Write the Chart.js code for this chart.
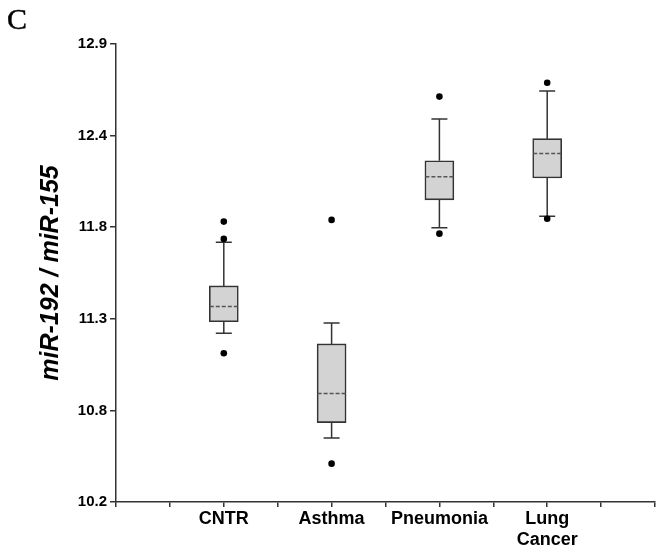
<!DOCTYPE html>
<html>
<head>
<meta charset="utf-8">
<script src="https://cdn.jsdelivr.net/npm/chart.js@4.4.1/dist/chart.umd.min.js"></script>
<style>
    body { margin: 0; background: #fff; }
    #wrap { position: relative; width: 657px; height: 554px; }
    #panel { position: absolute; left: 7px; top: 2px; font: 30px "Liberation Serif", "Times New Roman", serif; color: #000; -webkit-text-stroke: 0.4px #000; }
</style>
</head>
<body>
<div id="wrap">
    <canvas id="chart" width="657" height="554"></canvas>
    <div id="panel">C</div>
</div>
<script>
// Groups and box statistics
const categories = ['CNTR', 'Asthma', 'Pneumonia', ['Lung', 'Cancer']];
const positions = [1, 2, 3, 4];
const whiskerLow = [11.195, 10.577, 11.817, 11.885];
const q1 = [11.263, 10.668, 11.981, 12.110];
const median = [11.352, 10.839, 12.118, 12.254];
const q3 = [11.474, 11.132, 12.212, 12.342];
const whiskerHigh = [11.731, 11.255, 12.458, 12.623];
const outliers = [
    [11.853, 11.751, 11.077],
    [11.863, 10.426],
    [12.590, 11.782],
    [12.672, 11.870]
];
const yTickLabels = ['10.2', '10.8', '11.3', '11.8', '12.4', '12.9'];

const lineColor = '#333';

// whiskers, caps and dashed medians drawn on the chart scales
const boxExtras = {
    id: 'boxExtras',
    afterDatasetsDraw(chart) {
        const ctx = chart.ctx;
        const x = chart.scales.x;
        const y = chart.scales.y;
        ctx.save();
        ctx.strokeStyle = lineColor;
        ctx.lineWidth = 1.5;
        positions.forEach((p, i) => {
            const cx = x.getPixelForValue(p);
            const capHalf = 8;
            ctx.beginPath();
            ctx.moveTo(cx, y.getPixelForValue(q3[i]));
            ctx.lineTo(cx, y.getPixelForValue(whiskerHigh[i]));
            ctx.moveTo(cx, y.getPixelForValue(q1[i]));
            ctx.lineTo(cx, y.getPixelForValue(whiskerLow[i]));
            ctx.moveTo(cx - capHalf, y.getPixelForValue(whiskerHigh[i]));
            ctx.lineTo(cx + capHalf, y.getPixelForValue(whiskerHigh[i]));
            ctx.moveTo(cx - capHalf, y.getPixelForValue(whiskerLow[i]));
            ctx.lineTo(cx + capHalf, y.getPixelForValue(whiskerLow[i]));
            ctx.stroke();

            // median
            ctx.beginPath();
            ctx.strokeStyle = '#555';
            ctx.setLineDash([4, 2]);
            ctx.lineWidth = 1.5;
            const my = y.getPixelForValue(median[i]);
            ctx.moveTo(cx - 14, my);
            ctx.lineTo(cx + 14, my);
            ctx.stroke();
            ctx.setLineDash([]);
            ctx.strokeStyle = lineColor;
        });
        // outlier dots on top
        ctx.fillStyle = '#000';
        positions.forEach((p, i) => {
            outliers[i].forEach(v => {
                ctx.beginPath();
                ctx.arc(x.getPixelForValue(p), y.getPixelForValue(v), 3.3, 0, Math.PI * 2);
                ctx.fill();
            });
        });
        ctx.restore();
    }
};

new Chart(document.getElementById('chart'), {
    type: 'bar',
    data: {
        datasets: [{
            label: 'IQR',
            data: positions.map((p, i) => ({ x: p, y: [q1[i], q3[i]] })),
            backgroundColor: '#d3d3d3',
            borderColor: lineColor,
            borderWidth: 1.6,
            borderSkipped: false,
            barThickness: 29
        }]
    },
    options: {
        responsive: false,
        animation: false,
        layout: { padding: { top: 44, right: 0, left: 0, bottom: 0 } },
        plugins: {
            legend: { display: false },
            tooltip: { enabled: false }
        },
        scales: {
            x: {
                type: 'linear',
                min: 0,
                max: 5,
                offset: false,
                afterFit(scale) { scale.height = 52; },
                border: { color: lineColor, width: 1.5 },
                grid: { offset: false, drawOnChartArea: false, drawTicks: true, tickLength: 5, color: lineColor, lineWidth: 1.5 },
                ticks: {
                    stepSize: 0.5,
                    autoSkip: false,
                    maxRotation: 0,
                    padding: 2,
                    color: '#000',
                    font: { family: 'Liberation Sans', size: 18, weight: 'bold', lineHeight: 1.15 },
                    callback: function (value) {
                        const idx = positions.indexOf(value);
                        return idx >= 0 ? categories[idx] : '';
                    }
                }
            },
            y: {
                min: 10.2,
                max: 12.9,
                afterFit(scale) { scale.width = 116; },
                border: { color: lineColor, width: 1.5 },
                grid: { drawOnChartArea: false, drawTicks: true, tickLength: 6, color: lineColor, lineWidth: 1.5 },
                ticks: {
                    stepSize: 0.54,
                    padding: 3,
                    color: '#000',
                    font: { family: 'Liberation Sans', size: 15, weight: 'bold' },
                    callback: function (value, index) { return yTickLabels[index]; }
                },
                title: {
                    display: true,
                    text: 'miR-192 / miR-155',
                    color: '#000',
                    padding: { top: 36, bottom: 0 },
                    font: { family: 'Liberation Sans', size: 25, weight: 'bold', style: 'italic' }
                }
            }
        }
    },
    plugins: [boxExtras]
});
</script>
</body>
</html>
